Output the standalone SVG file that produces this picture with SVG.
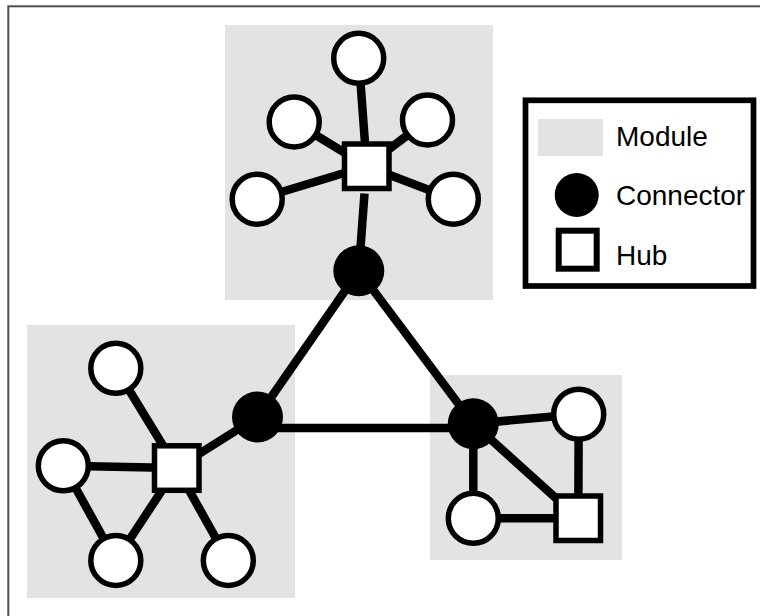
<svg xmlns="http://www.w3.org/2000/svg" width="760" height="616" viewBox="0 0 760 616">
  <style>
    .module { fill: #e3e3e3; }
    .edge { stroke: #000; stroke-width: 8.5; fill: none; }
    .node { fill: #fff; stroke: #000; stroke-width: 5.5; }
    .hub { fill: #fff; stroke: #000; stroke-width: 5.5; }
    .connector { fill: #000; }
    .label { font-family: "Liberation Sans", Arial, Helvetica, sans-serif; font-size: 28px; fill: #000; }
  </style>

  <rect x="0" y="0" width="760" height="616" fill="#fff"/>
  <!-- outer frame (only top and left edges fall inside the canvas) -->
  <rect x="8.3" y="6.3" width="780" height="640" fill="none" stroke="#505050" stroke-width="2"/>

  <!-- module backgrounds -->
  <g id="modules">
    <rect id="module-top" class="module" x="225" y="25" width="268" height="275"/>
    <rect id="module-left" class="module" x="27" y="325" width="268" height="273"/>
    <rect id="module-right" class="module" x="430" y="375" width="192" height="185"/>
  </g>

  <!-- connectors -->
  <g id="edges">
    <!-- backbone triangle -->
    <line class="edge" x1="358.8" y1="270.8" x2="257.5" y2="417"/>
    <line class="edge" x1="358.8" y1="270.8" x2="473.3" y2="423.7"/>
    <line class="edge" x1="257.5" y1="428" x2="473.3" y2="428"/>
    <!-- top module -->
    <line class="edge" x1="358.7" y1="58.3" x2="366.7" y2="166.2"/>
    <line class="edge" x1="294.2" y1="122" x2="366.7" y2="166.2"/>
    <line class="edge" x1="427.5" y1="120" x2="366.7" y2="166.2"/>
    <line class="edge" x1="257.2" y1="199.2" x2="366.7" y2="166.2"/>
    <line class="edge" x1="453.3" y1="199.2" x2="366.7" y2="166.2"/>
    <line class="edge" x1="358.8" y1="270.8" x2="364.5" y2="193.5"/>
    <!-- left module -->
    <line class="edge" x1="115.8" y1="368.3" x2="176.7" y2="468"/>
    <line class="edge" x1="63.3" y1="465.8" x2="176.7" y2="468"/>
    <line class="edge" x1="63.3" y1="465.8" x2="115.8" y2="560.5"/>
    <line class="edge" x1="115.8" y1="560.5" x2="176.7" y2="468"/>
    <line class="edge" x1="228.3" y1="560.5" x2="176.7" y2="468"/>
    <line class="edge" x1="176.7" y1="468" x2="257.5" y2="417"/>
    <!-- right module -->
    <line class="edge" x1="473.3" y1="423.7" x2="578.7" y2="414.2"/>
    <line class="edge" x1="473.3" y1="423.7" x2="473.3" y2="518.3"/>
    <line class="edge" x1="473.3" y1="423.7" x2="578.3" y2="518.3"/>
    <line class="edge" x1="578.7" y1="414.2" x2="578.3" y2="518.3"/>
    <line class="edge" x1="473.3" y1="518.3" x2="578.3" y2="518.3"/>
  </g>

  <!-- top module nodes -->
  <g id="top-n1"><circle class="node" cx="358.7" cy="58.3" r="25"/></g>
  <g id="top-n2"><circle class="node" cx="294.2" cy="122" r="25"/></g>
  <g id="top-n3"><circle class="node" cx="427.5" cy="120" r="25"/></g>
  <g id="top-n4"><circle class="node" cx="257.2" cy="199.2" r="25"/></g>
  <g id="top-n5"><circle class="node" cx="453.3" cy="199.2" r="25"/></g>
  <g id="top-hub"><rect class="hub" x="344.5" y="144" width="44.5" height="44.5"/></g>
  <g id="top-connector"><circle class="connector" cx="358.8" cy="270.8" r="25.5"/></g>

  <!-- left module nodes -->
  <g id="left-n1"><circle class="node" cx="115.8" cy="368.3" r="25"/></g>
  <g id="left-n2"><circle class="node" cx="63.3" cy="465.8" r="25"/></g>
  <g id="left-n3"><circle class="node" cx="115.8" cy="560.5" r="25"/></g>
  <g id="left-n4"><circle class="node" cx="228.3" cy="560.5" r="25"/></g>
  <g id="left-hub"><rect class="hub" x="154.5" y="445.8" width="44.5" height="44.5"/></g>
  <g id="left-connector"><circle class="connector" cx="257.5" cy="417" r="25.5"/></g>

  <!-- right module nodes -->
  <g id="right-n1"><circle class="node" cx="578.7" cy="414.2" r="25"/></g>
  <g id="right-n2"><circle class="node" cx="473.3" cy="518.3" r="25"/></g>
  <g id="right-hub"><rect class="hub" x="556" y="496" width="44.5" height="44.5"/></g>
  <g id="right-connector"><circle class="connector" cx="473.3" cy="423.7" r="25.5"/></g>

  <!-- legend -->
  <g id="legend">
    <rect x="525.5" y="100.3" width="228" height="185.7" fill="#fff" stroke="#000" stroke-width="5.7"/>
    <rect class="module" x="538" y="119" width="65" height="37"/>
    <text class="label" x="616" y="146">Module</text>
    <circle class="connector" cx="576.7" cy="195" r="22"/>
    <text class="label" x="616" y="205">Connector</text>
    <rect x="558.7" y="230.7" width="38" height="38" fill="#fff" stroke="#000" stroke-width="6"/>
    <text class="label" x="616" y="265">Hub</text>
  </g>
</svg>
